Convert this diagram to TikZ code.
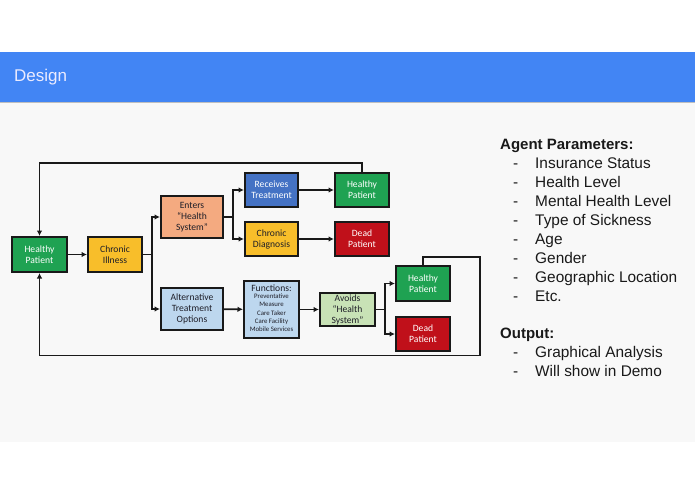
\documentclass[tikz,border=0pt]{standalone}
\usepackage{fontspec}
\setmainfont{Liberation Sans}
\newfontfamily\boxfont{Carlito}
\usetikzlibrary{arrows.meta}
\definecolor{hdrblue}{HTML}{4285F4}
\definecolor{slidebg}{HTML}{F8F8F8}
\definecolor{bgreen}{HTML}{1FA252}
\definecolor{byellow}{HTML}{F8BE2A}
\definecolor{borange}{HTML}{F4AA80}
\definecolor{blblue}{HTML}{BDD7EE}
\definecolor{bblue}{HTML}{4472C4}
\definecolor{bred}{HTML}{C0101A}
\definecolor{blgreen}{HTML}{C8E2B6}
\definecolor{txtdark}{HTML}{1E1E28}
\newcommand\fsmallx{\fontsize{6.8}{8.3}\selectfont}
\tikzset{
  box/.style={draw=black!90, line width=2pt, inner sep=1pt, align=center,
    font=\boxfont\fontsize{9.6}{11}\selectfont, text=txtdark},
  whitetext/.style={text=white},
  conn/.style={line width=1.9pt, draw=black!90, -{Latex[length=5.5pt,width=5.5pt]}},
  plain/.style={line width=1.9pt, draw=black!90},
  item/.style={anchor=base west, font=\fontsize{15.4}{18}\selectfont, text=black!90, inner sep=0pt},
  head/.style={anchor=base west, font=\bfseries\fontsize{15}{18}\selectfont, text=black!90, inner sep=0pt},
}
\begin{document}
\begin{tikzpicture}[x=1pt,y=-1pt]
\useasboundingbox (0,0) rectangle (695,494);
\fill[white] (0,0) rectangle (695,494);
\fill[slidebg] (0,102) rectangle (695,442);
\fill[black!25] (0,101) rectangle (695,103.5);
\fill[hdrblue] (0,52) rectangle (695,102);
\node[anchor=base west, inner sep=0pt, text=blue!8, font=\fontsize{17}{20}\selectfont] (title) at (14,82) {Design};

% boxes
\node[box, fill=bgreen, whitetext, minimum width=55pt, minimum height=35pt] (hp) at (39.5,254.5) {Healthy\\Patient};
\node[box, fill=byellow, minimum width=54pt, minimum height=35pt] (ci) at (115,254.5) {Chronic\\Illness};
\node[box, fill=borange, minimum width=62pt, minimum height=42pt] (ehs) at (192,217) {Enters\\“Health\\System”};
\node[box, fill=blblue, minimum width=62pt, minimum height=42pt] (alt) at (192,309) {Alternative\\Treatment\\Options};
\node[box, fill=bblue, whitetext, minimum width=53pt, minimum height=34pt] (rt) at (271.5,190) {Receives\\Treatment};
\node[box, fill=byellow, minimum width=53pt, minimum height=34pt] (cd) at (271.5,239) {Chronic\\Diagnosis};
\node[box, fill=bgreen, whitetext, minimum width=54pt, minimum height=34pt] (hp2) at (362,190) {Healthy\\Patient};
\node[box, fill=bred, whitetext, minimum width=54pt, minimum height=34pt] (dp2) at (362,239) {Dead\\Patient};
\node[box, fill=blblue, minimum width=55pt, minimum height=57pt] (fn) at (271.5,309.5) {Functions:\\[0pt]{\fsmallx\begin{tabular}{@{}c@{}}Preventative\\Measure\\Care Taker\\Care Facility\\Mobile Services\end{tabular}}};
\node[box, fill=blgreen, minimum width=55pt, minimum height=33pt] (av) at (347.5,309.5) {Avoids\\“Health\\System”};
\node[box, fill=bgreen, whitetext, minimum width=54pt, minimum height=35pt] (hp3) at (423,283.5) {Healthy\\Patient};
\node[box, fill=bred, whitetext, minimum width=54pt, minimum height=34pt] (dp3) at (423,334) {Dead\\Patient};

% branch coordinates
\coordinate (b1) at (152,254.5);
\coordinate (b2) at (233,217);
\coordinate (b3) at (385,309.5);

% connectors
\draw[conn] (hp) -- (ci);
\draw[plain] (ci.east) -- (b1);
\draw[conn] (b1) |- (ehs.west);
\draw[conn] (b1) |- (alt.west);
\draw[plain] (ehs.east) -- (b2);
\draw[conn] (b2) |- (rt.west);
\draw[conn] (b2) |- (cd.west);
\draw[conn] (rt) -- (hp2);
\draw[conn] (cd) -- (dp2);
\draw[conn] (alt) -- (fn);
\draw[conn] (fn) -- (av);
\draw[plain] (av.east) -- (b3);
\draw[conn] (b3) |- (hp3.west);
\draw[conn] (b3) |- (dp3.west);

% loops
\draw[conn] (hp2.north) -- (362,163) -- (39.5,163) -- (hp.north);
\draw[conn] (hp3.north) -- (423,257) -- (480,257) -- (480,355.5) -- (39.5,355.5) -- (hp.south);

% right text
\node[head] (ap) at (500,149.5) {Agent Parameters:};
\foreach \t [count=\i] in {Insurance Status,Health Level,Mental Health Level,Type of Sickness,Age,Gender,Geographic Location,Etc.}{
  \node[item] (d\i) at (513,149.5+19*\i) {-};
  \node[item] (p\i) at (535,149.5+19*\i) {\t};
}
\node[head] (out) at (500,338.5) {Output:};
\node[item] (od1) at (513,357) {-};
\node[item] (o1) at (535,357) {Graphical Analysis};
\node[item] (od2) at (513,376) {-};
\node[item] (o2) at (535,376) {Will show in Demo};
\end{tikzpicture}
\end{document}
